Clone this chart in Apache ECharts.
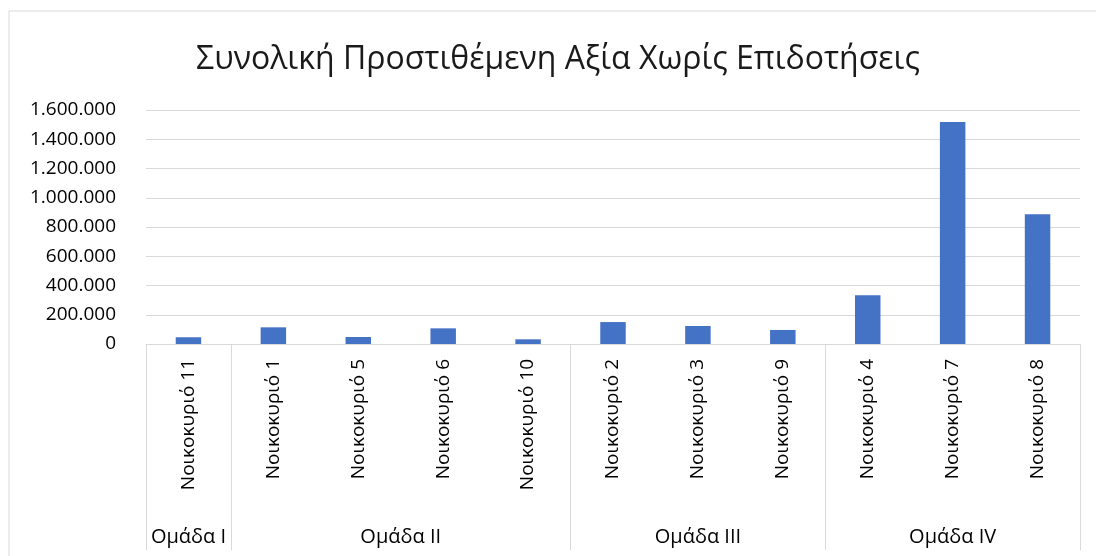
<!DOCTYPE html>
<html lang="el">
<head>
    <meta charset="UTF-8">
    <title>Συνολική Προστιθέμενη Αξία Χωρίς Επιδοτήσεις</title>
    <style>
        html, body { margin: 0; padding: 0; background: #fff; }
    </style>
</head>
<body>
<div id="chart1" style="width: 1096px; height: 556px;"></div>

<script src="https://cdn.jsdelivr.net/npm/echarts@6/dist/echarts.min.js"></script>
<script type="text/javascript">
    var categories = ['Νοικοκυριό 11', 'Νοικοκυριό 1', 'Νοικοκυριό 5', 'Νοικοκυριό 6', 'Νοικοκυριό 10',
        'Νοικοκυριό 2', 'Νοικοκυριό 3', 'Νοικοκυριό 9', 'Νοικοκυριό 4', 'Νοικοκυριό 7', 'Νοικοκυριό 8'];
    var values = [46000, 114000, 48000, 107000, 32000, 150000, 123000, 96000, 333000, 1518000, 887000];
    var groupNames = ['Ομάδα I', 'Ομάδα II', 'Ομάδα III', 'Ομάδα IV'];
    var groupSizes = [1, 4, 3, 3];
    var yTicks = [0, 200000, 400000, 600000, 800000, 1000000, 1200000, 1400000, 1600000];

    // group borders and centres, in category units
    var borders = [0], centres = [], pos = 0;
    groupSizes.forEach(function (n) {
        centres.push(pos + n / 2);
        pos += n;
        borders.push(pos);
    });

    function fmt(v) {
        return String(v).replace(/\B(?=(\d{3})+(?!\d))/g, '.');
    }

    var font = "'Open Sans', 'Noto Sans', sans-serif";
    var myChart1 = echarts.init(document.getElementById('chart1'));
    myChart1.setOption({
        animation: false,
        textStyle: { fontFamily: font },
        title: {
            text: 'Συνολική Προστιθέμενη Αξία Χωρίς Επιδοτήσεις',
            left: 191,
            top: 39,
            textStyle: { fontFamily: font, fontSize: 32, fontWeight: 'normal', color: '#1a1a1a' }
        },
        graphic: [{
            type: 'rect',
            shape: { x: 9, y: 11, width: 1100, height: 560 },
            style: { fill: 'none', stroke: '#d9d9d9', lineWidth: 1 },
            silent: true
        }],
        grid: { left: 146, right: 16, top: 110, bottom: 212, containLabel: false },
        xAxis: [{
            type: 'category',
            data: categories,
            axisLine: { show: true, lineStyle: { color: '#d9d9d9', width: 1 } },
            axisTick: { show: false },
            axisLabel: { rotate: 90, margin: 15, fontSize: 19, color: '#000', fontFamily: font }
        }, {
            type: 'value',
            position: 'bottom',
            min: 0,
            max: categories.length,
            axisLine: { show: false },
            splitLine: { show: false },
            axisTick: {
                show: true,
                length: 206,
                customValues: borders,
                lineStyle: { color: '#d9d9d9', width: 1 }
            },
            axisLabel: {
                customValues: centres,
                margin: 183,
                fontSize: 20,
                color: '#000',
                fontFamily: font,
                formatter: function (v) {
                    var i = centres.indexOf(v);
                    return i >= 0 ? groupNames[i] : '';
                }
            }
        }],
        yAxis: {
            type: 'value',
            min: 0,
            max: 1600000,
            interval: 200000,
            axisLine: { show: false },
            axisTick: { show: false },
            splitLine: { lineStyle: { color: '#d9d9d9', width: 1 } },
            axisLabel: {
                fontSize: 19,
                color: '#000',
                margin: 30,
                fontFamily: font,
                customValues: yTicks,
                formatter: function (v) { return fmt(v); }
            }
        },
        series: [{
            name: 'Συνολική Προστιθέμενη Αξία',
            type: 'bar',
            xAxisIndex: 0,
            data: values,
            barWidth: '30%',
            itemStyle: { color: '#4472c4' }
        }]
    });
</script>

</body>
</html>
